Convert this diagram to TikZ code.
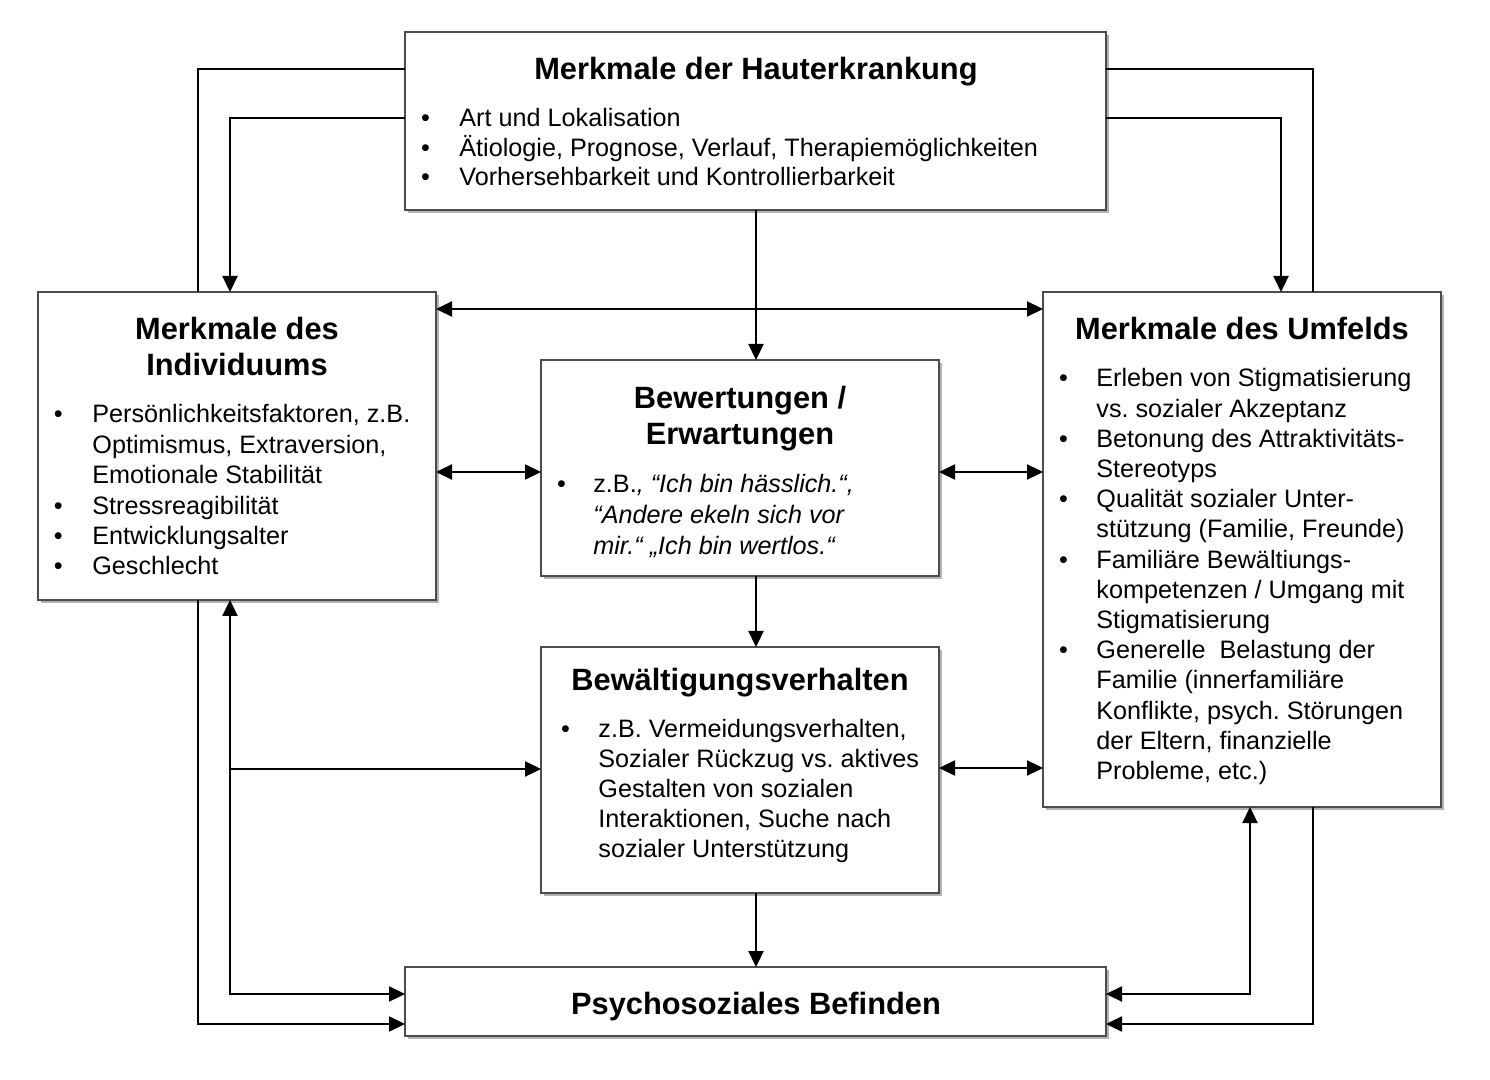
\documentclass[tikz,border=0pt]{standalone}
\usepackage{fontspec}
\setmainfont{Liberation Sans}
\usetikzlibrary{arrows.meta,shadows}
\frenchspacing
\newlength\bw
\newcommand\bul{\makebox[\bw][l]{\textbullet}}
\newcommand\ind{\hspace*{\bw}}
\begin{document}
\begin{tikzpicture}[x=0.5pt,y=-0.5pt,
  box/.style={draw=black!70, line width=0.7pt, fill=white,
    drop shadow={shadow xshift=1.3pt,shadow yshift=-1.3pt,opacity=0.3,fill=black},
    inner sep=0pt, outer sep=0pt},
  ttl/.style={anchor=base, inner sep=0pt, font=\bfseries\fontsize{15.4}{18}\selectfont},
  lst/.style={anchor=base west, inner sep=0pt},
  ln/.style={line width=1.15pt},
  arr/.style={ln, -{Triangle[length=8pt,width=7.5pt]}},
  darr/.style={ln, {Triangle[length=8pt,width=7.5pt]}-{Triangle[length=8pt,width=7.5pt]}}]

\path[use as bounding box] (0,0) rectangle (1490,1080);

% boxes
\node[box, minimum width=350.5pt, minimum height=89pt] (top) at (755.5,121) {};
\node[box, minimum width=199pt, minimum height=154pt] (lft) at (237,446) {};
\node[box, minimum width=199pt, minimum height=257.5pt] (rgt) at (1242,549.5) {};
\node[box, minimum width=199pt, minimum height=108pt] (mid1) at (740,468) {};
\node[box, minimum width=199pt, minimum height=123pt] (mid2) at (740,770) {};
\node[box, minimum width=350.5pt, minimum height=34.5pt] (bot) at (755.5,1001.5) {};

% titles
\node[ttl] (tTop) at (756,80) {Merkmale der Hauterkrankung};
\node[ttl] (tLft) at (237,340) {\parbox[t]{190pt}{\centering Merkmale des\\Individuums}};
\node[ttl] (tRgt) at (1242,340) {Merkmale des Umfelds};
\node[ttl] (tMid1) at (740,409) {\parbox[t]{190pt}{\centering Bewertungen /\\Erwartungen}};
\node[ttl] (tMid2) at (740,690) {Bewältigungsverhalten};
\node[ttl] (tBot) at (756,1014) {Psychosoziales Befinden};

% lists
\node[lst] (lTop) at (420.6,127) {\parbox[t]{340pt}{\setlength\bw{19.2pt}\fontsize{12.6}{14.75}\selectfont
\bul Art und Lokalisation\\
\bul Ätiologie, Prognose, Verlauf, Therapiemöglichkeiten\\
\bul Vorhersehbarkeit und Kontrollierbarkeit}};

\node[lst] (lLft) at (53.6,423) {\parbox[t]{195pt}{\setlength\bw{19.2pt}\fontsize{12.6}{15.2}\selectfont
\bul Persönlichkeitsfaktoren, z.B.\\
\ind Optimismus, Extraversion,\\
\ind Emotionale Stabilität\\
\bul Stressreagibilität\\
\bul Entwicklungsalter\\
\bul Geschlecht}};

\node[lst] (lRgt) at (1058.6,387) {\parbox[t]{195pt}{\setlength\bw{18.7pt}\fontsize{12.6}{15.1}\selectfont
\bul Erleben von Stigmatisierung\\
\ind vs. sozialer Akzeptanz\\
\bul Betonung des Attraktivitäts-\\
\ind Stereotyps\\
\bul Qualität sozialer Unter-\\
\ind stützung (Familie, Freunde)\\
\bul Familiäre Bewältiungs-\\
\ind kompetenzen / Umgang mit\\
\ind Stigmatisierung\\
\bul Generelle\ \ Belastung der\\
\ind Familie (innerfamiliäre\\
\ind Konflikte, psych. Störungen\\
\ind der Eltern, finanzielle\\
\ind Probleme, etc.)}};

\node[lst] (lMid1) at (556.6,493) {\parbox[t]{195pt}{\setlength\bw{18.2pt}\fontsize{12.6}{15.5}\selectfont
\bul z.B.\textit{, “Ich bin hässlich.“,}\\
\ind\textit{“Andere ekeln sich vor}\\
\ind\textit{mir.“ „Ich bin wertlos.“}}};

\node[lst] (lMid2) at (560.6,738) {\parbox[t]{195pt}{\setlength\bw{18.7pt}\fontsize{12.6}{15}\selectfont
\bul z.B. Vermeidungsverhalten,\\
\ind Sozialer Rückzug vs. aktives\\
\ind Gestalten von sozialen\\
\ind Interaktionen, Suche nach\\
\ind sozialer Unterstützung}};

% helper coordinates
\coordinate (oL) at (198,69);
\coordinate (iL) at (230,118);
\coordinate (oR) at (1313,69);
\coordinate (iR) at (1281,118);
\coordinate (vx) at (756,500);
\coordinate (yb) at (700,1024);
\coordinate (jL) at (230,994);
\coordinate (jR) at (1250,994);
\coordinate (h1) at (700,309);
\coordinate (h2) at (700,472);
\coordinate (h3) at (700,768);
\coordinate (h4) at (380,769);

% connectors
\draw[ln] (top.west |- oL) -| (lft.north -| oL);
\draw[arr] (lft.south -| oL) |- (bot.west |- yb);
\draw[arr] (top.west |- iL) -| (lft.north -| iL);
\draw[ln] (top.east |- oR) -| (rgt.north -| oR);
\draw[arr] (rgt.south -| oR) |- (bot.east |- yb);
\draw[arr] (top.east |- iR) -| (rgt.north -| iR);

\draw[arr] (top.south -| vx) -- (mid1.north -| vx);
\draw[arr] (mid1.south -| vx) -- (mid2.north -| vx);
\draw[arr] (mid2.south -| vx) -- (bot.north -| vx);

\draw[darr] (lft.east |- h1) -- (rgt.west |- h1);
\draw[darr] (lft.east |- h2) -- (mid1.west |- h2);
\draw[darr] (mid1.east |- h2) -- (rgt.west |- h2);
\draw[darr] (mid2.east |- h3) -- (rgt.west |- h3);

\draw[darr] (lft.south -| jL) -- (jL) -- (bot.west |- jL);
\draw[arr] (jL |- h4) -- (mid2.west |- h4);
\draw[darr] (rgt.south -| jR) -- (jR) -- (bot.east |- jR);
\end{tikzpicture}
\end{document}
